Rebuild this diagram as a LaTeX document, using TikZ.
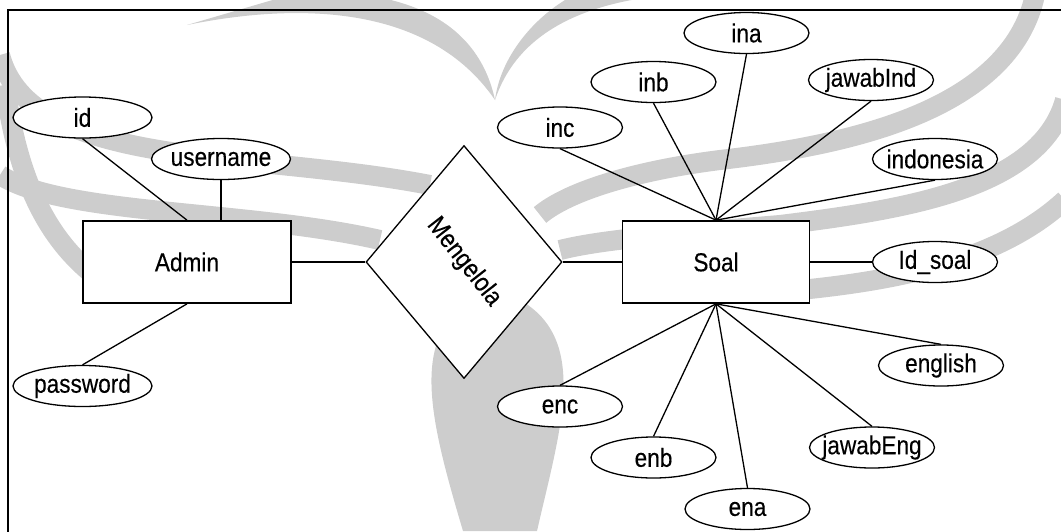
\documentclass[tikz,border=0pt]{standalone}
\usepackage{fontspec}
\setmainfont{Liberation Sans}[FakeStretch=0.87, FakeBold=0.3]
\usetikzlibrary{calc, shapes.geometric}
\definecolor{wmgray}{RGB}{205,205,205}

\begin{document}
\begin{tikzpicture}[x=1pt, y=-1pt]

    \tikzstyle{entity}=[rectangle, draw=black, line width=1.7pt, fill=white, minimum height=82pt, font=\fontsize{26}{30}\selectfont];
    \tikzstyle{attr}=[ellipse, draw=black, line width=1.3pt, fill=white, inner xsep=-8pt, inner ysep=0pt, minimum width=125pt, minimum height=41pt, font=\fontsize{26}{30}\selectfont];
    \tikzstyle{relation}=[diamond, draw=black, line width=1.3pt, fill=white, inner sep=0pt, minimum width=196pt, minimum height=233pt];
    \tikzstyle{link}=[line width=1.3pt];
    \tikzstyle{band}=[draw=wmgray, line width=20pt];

    \useasboundingbox (0,0) rectangle (1061,531);

    % watermark behind the diagram
    \fill[wmgray] (187,25) .. controls (300,2) and (430,5) .. (495,100) .. controls (480,30) and (420,-12) .. (300,-8) -- cycle;
    \fill[wmgray] (495,100) .. controls (515,40) and (570,8) .. (650,-3) -- (570,-3) .. controls (530,20) and (500,60) .. (495,100);
    \draw[band] (0,55) .. controls (30,170) and (250,150) .. (430,185);
    \draw[band] (0,175) .. controls (60,215) and (250,210) .. (380,240);
    \draw[band] (5,85) .. controls (20,200) and (60,250) .. (100,280);
    \draw[band] (1035,-5) .. controls (1010,110) and (850,145) .. (720,160) .. controls (640,170) and (570,190) .. (540,215);
    \draw[band] (1065,100) .. controls (1040,190) and (900,210) .. (780,225) .. controls (660,235) and (600,240) .. (560,250);
    \draw[band] (1065,200) .. controls (1000,260) and (900,280) .. (800,290);
    \fill[wmgray] (470,300) .. controls (410,340) and (430,420) .. (463,531) -- (537,531) .. controls (560,430) and (590,340) .. (520,300) -- cycle;

    \draw[line width=2.7pt] (1075,10) -- (8,10) -- (8,545);

    \node[entity, minimum width=208pt] (admin) at (187,262) {Admin};
    \node[entity, minimum width=187pt] (soal) at (716,262) {Soal};
    \node[relation] (rel) at (464,262) {};
    \node[rotate=-52, font=\fontsize{26}{30}\selectfont] (relname) at (rel) {Mengelola};

    \node[attr, minimum width=139pt] (id) at ($(admin)+(-104.5,-144.5)$) {id};
    \node[attr, minimum width=139pt] (username) at ($(admin)+(34,-103)$) {username};
    \node[attr, minimum width=139pt] (password) at ($(admin)+(-104.5,124)$) {password};

    \node[attr] (inc) at ($(soal)+(-156,-134.5)$) {inc};
    \node[attr] (inb) at ($(soal)+(-62.5,-180)$) {inb};
    \node[attr] (ina) at ($(soal)+(30.5,-229)$) {ina};
    \node[attr] (jawabind) at ($(soal)+(155,-182)$) {jawabInd};
    \node[attr] (indonesia) at ($(soal)+(219,-103)$) {indonesia};
    \node[attr] (idsoal) at ($(soal)+(219,0)$) {Id\_soal};
    \node[attr] (english) at ($(soal)+(225,103.5)$) {english};
    \node[attr] (jawabeng) at ($(soal)+(156,185.5)$) {jawabEng};
    \node[attr] (ena) at ($(soal)+(31.5,247)$) {ena};
    \node[attr] (enb) at ($(soal)+(-62.5,195.5)$) {enb};
    \node[attr] (enc) at ($(soal)+(-156,144.5)$) {enc};

    \draw[link] (id.south) edge (admin.north);
    \draw[link] (username.south) edge (username.south |- admin.north);
    \draw[link] (password.north) edge (admin.south);

    \draw[link] (admin.east) edge (rel.west);
    \draw[link] (rel.east) edge (soal.west);

    \foreach \a in {inc, inb, ina, jawabind, indonesia}
        \draw[link] (\a.south) edge (soal.north);
    \foreach \a in {english, jawabeng, ena, enb, enc}
        \draw[link] (\a.north) edge (soal.south);
    \draw[link] (soal.east) edge (idsoal.west);

\end{tikzpicture}
\end{document}
